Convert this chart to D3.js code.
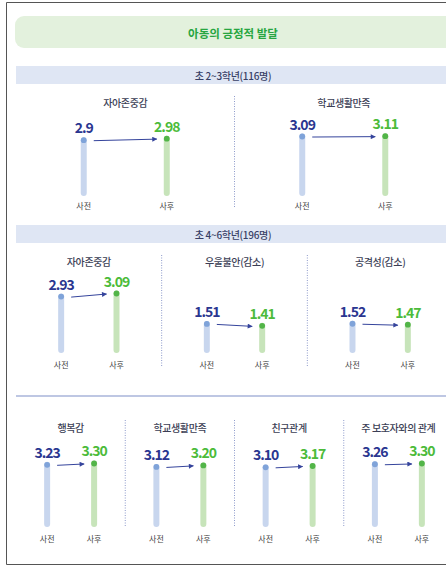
<!DOCTYPE html>
<html><head><meta charset="utf-8">
<script src="https://cdn.jsdelivr.net/npm/d3@7"></script>
<style>
body{margin:0;background:#fff}
svg{display:block}
text{font-family:"Noto Sans CJK KR","Noto Sans",sans-serif}
</style>
</head><body>
<svg id="c" width="446" height="566"></svg>
<script>
// ---- data ----
const titleText = "아동의 긍정적 발달";
const sectionTitles = ["초 2~3학년(116명)", "초 4~6학년(196명)", ""];
const phases = ["사전", "사후"];

const s1Categories = ["자아존중감", "학교생활만족"];
const s1Pre  = [2.9, 3.09];
const s1Post = [2.98, 3.11];

const s2Categories = ["자아존중감", "우울불안(감소)", "공격성(감소)"];
const s2Pre  = [2.93, 1.51, 1.52];
const s2Post = [3.09, 1.41, 1.47];

const s3Categories = ["행복감", "학교생활만족", "친구관계", "주 보호자와의 관계"];
const s3Pre  = [3.23, 3.12, 3.10, 3.26];
const s3Post = [3.30, 3.20, 3.17, 3.30];

// ---- layout ----
const svg = d3.select("#c");
const W = 446, H = 566;
const left = 16, right = 453;
const C = {
  preBar: "#c8d6ee", preDot: "#7fa3d9", preText: "#2a3690",
  postBar: "#c7e4ba", postDot: "#52b548", postText: "#4cbb3a",
  arrow: "#35449c", divider: "#8e9bcb", band: "#dfe6f4"
};

const defs = svg.append("defs");
defs.append("marker").attr("id", "ah").attr("viewBox", "0 0 10 10")
  .attr("refX", 9).attr("refY", 5).attr("markerWidth", 6).attr("markerHeight", 5)
  .attr("markerUnits", "userSpaceOnUse").attr("orient", "auto")
  .append("path").attr("d", "M0,0L10,5L0,10Z").attr("fill", C.arrow);

// frame
svg.append("path").attr("d", `M446,2.5H6.5V564.5H446`)
  .attr("fill", "none").attr("stroke", "#555").attr("stroke-width", 1);

// title box
svg.append("rect").attr("x", 15).attr("y", 16).attr("width", 450).attr("height", 32)
  .attr("rx", 9).attr("fill", "#e3f1dd");
svg.append("text").attr("x", 233).attr("y", 33).attr("text-anchor", "middle")
  .attr("dominant-baseline", "central").attr("font-size", 11.5).attr("font-weight", 700)
  .attr("fill", "#27a641").text(titleText);

const sections = [
  {title: sectionTitles[0], cats: s1Categories, pre: s1Pre, post: s1Post, fmt: d => String(d),
   bandY: 66, subY: 102, bottom: 196, labY: 205, divTop: 96, divBot: 207, spread: 0.19},
  {title: sectionTitles[1], cats: s2Categories, pre: s2Pre, post: s2Post, fmt: d => String(d),
   bandY: 225, subY: 261, bottom: 353, labY: 364, divTop: 255, divBot: 367, spread: 0.19},
  {title: sectionTitles[2], cats: s3Categories, pre: s3Pre, post: s3Post, fmt: d3.format(".2f"),
   bandY: null, lineY: 396, subY: 427, bottom: 527, labY: 538, divTop: 420, divBot: 527, spread: 0.215}
];

sections.forEach(sec => {
  const g = svg.append("g");
  if (sec.bandY !== null) {
    g.append("rect").attr("x", left).attr("y", sec.bandY).attr("width", W).attr("height", 18)
      .attr("fill", C.band);
    g.append("text").attr("x", 233).attr("y", sec.bandY + 9.5).attr("text-anchor", "middle")
      .attr("dominant-baseline", "central").attr("font-size", 10).attr("font-weight", 500)
      .attr("fill", "#383f66").attr("letter-spacing", -0.3).text(sec.title);
  } else {
    g.append("line").attr("x1", left).attr("x2", W).attr("y1", sec.lineY).attr("y2", sec.lineY)
      .attr("stroke", "#a9b4da").attr("stroke-width", 1.4);
  }
  const x0 = d3.scaleBand().domain(sec.cats).range([left, right]);
  const bw = x0.bandwidth();
  const x1 = d3.scalePoint().domain(phases).range([bw * (0.5 - sec.spread), bw * (0.5 + sec.spread)]);
  const y = d3.scaleLinear().domain([0, 4]).range([sec.bottom, sec.bottom - 77]);

  // dividers
  sec.cats.slice(1).forEach(c => {
    g.append("line").attr("x1", x0(c)).attr("x2", x0(c)).attr("y1", sec.divTop).attr("y2", sec.divBot)
      .attr("stroke", C.divider).attr("stroke-width", 1).attr("stroke-dasharray", "1,1.5");
  });

  sec.cats.forEach((c, i) => {
    const pg = g.append("g").attr("transform", `translate(${x0(c)},0)`);
    pg.append("text").attr("x", bw / 2).attr("y", sec.subY).attr("text-anchor", "middle")
      .attr("dominant-baseline", "central").attr("font-size", 10).attr("font-weight", 500)
      .attr("fill", "#3b3e55").attr("letter-spacing", -0.4).text(c);
    const vals = [sec.pre[i], sec.post[i]];
    const bar = [C.preBar, C.postBar], dot = [C.preDot, C.postDot], tc = [C.preText, C.postText];
    phases.forEach((p, j) => {
      const xx = x1(p), v = vals[j];
      pg.append("rect").attr("x", xx - 3).attr("y", y(v) - 3).attr("width", 6)
        .attr("height", sec.bottom - y(v) + 3).attr("rx", 3).attr("fill", bar[j]);
      pg.append("circle").attr("cx", xx).attr("cy", y(v)).attr("r", 2.9).attr("fill", dot[j]);
      pg.append("text").attr("x", xx).attr("y", y(v) - 7).attr("text-anchor", "middle")
        .attr("font-family", "Roboto, 'Liberation Sans', sans-serif")
        .attr("font-size", 14).attr("font-weight", 700).attr("letter-spacing", -1)
        .attr("fill", tc[j]).text(sec.fmt(v));
      pg.append("text").attr("x", xx).attr("y", sec.labY).attr("text-anchor", "middle")
        .attr("dominant-baseline", "central").attr("font-size", 8).attr("fill", "#444")
        .text(p);
    });
    const xa = x1(phases[0]) + 10, xb = x1(phases[1]) - 10;
    pg.append("line").attr("x1", xa).attr("y1", y(vals[0]) + 0.5)
      .attr("x2", xb).attr("y2", y(vals[1]) + 0.5)
      .attr("stroke", C.arrow).attr("stroke-width", 1).attr("marker-end", "url(#ah)");
  });
});
</script>
</body></html>
